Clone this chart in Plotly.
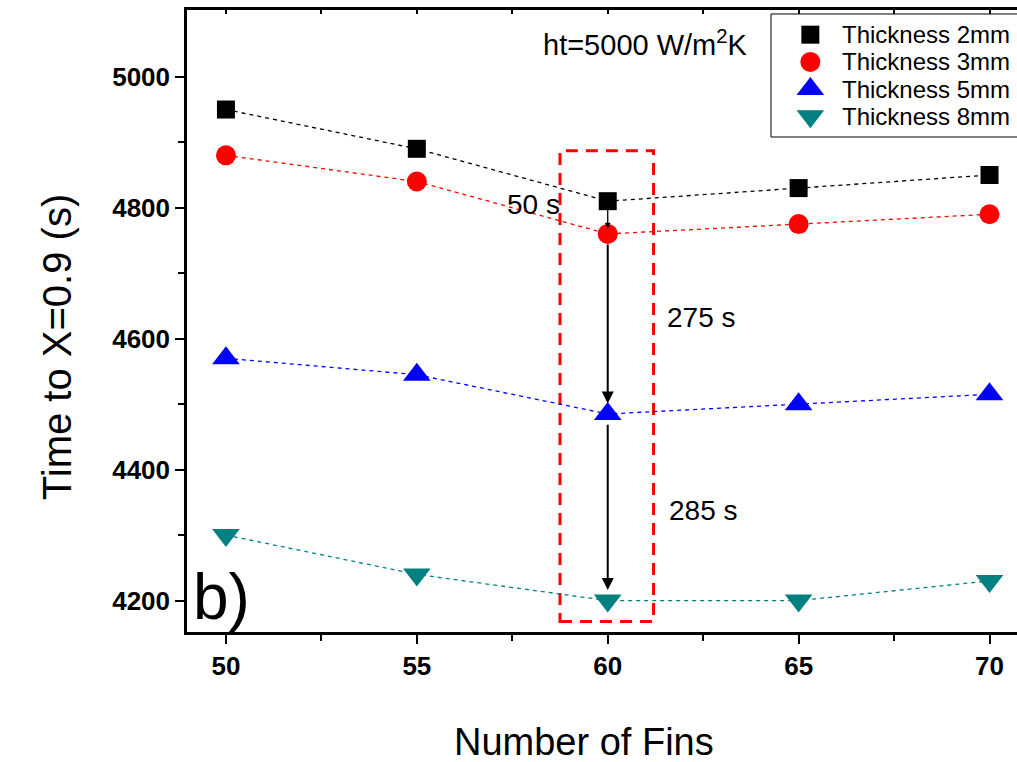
import plotly.graph_objects as go

# Number of fins on the x axis
fins = [50, 55, 60, 65, 70]

# Time to reach liquid fraction X=0.9 (s) for each fin thickness
t_2mm = [4950, 4890, 4810, 4830, 4850]
t_3mm = [4880, 4840, 4760, 4775, 4790]
t_5mm = [4570, 4545, 4485, 4500, 4515]
t_8mm = [4300, 4240, 4200, 4200, 4230]

series_names = ["Thickness 2mm", "Thickness 3mm", "Thickness 5mm", "Thickness 8mm"]
series_vals = [t_2mm, t_3mm, t_5mm, t_8mm]
colors = ["#000000", "#ff0000", "#0000ff", "#008080"]
symbols = ["square", "circle", "triangle-up", "triangle-down"]
sizes = [18, 20, 24, 24]

# Differences highlighted at 60 fins
gap_labels = ["50 s", "275 s", "285 s"]

x_ticks = [50, 55, 60, 65, 70]
y_ticks = [4200, 4400, 4600, 4800, 5000]

FONT = "Liberation Sans, Arial, sans-serif"

fig = go.Figure()
for name, vals, c, s, sz in zip(series_names, series_vals, colors, symbols, sizes):
    fig.add_trace(go.Scatter(
        x=fins, y=vals, name=name, mode="lines+markers", showlegend=False,
        line=dict(color=c, width=1.3, dash="4px,4px"),
        marker=dict(symbol=s, size=sz, color=c, line=dict(width=0)),
    ))

# Highlight box around the 60-fin column
fig.add_shape(type="rect", x0=58.75, x1=61.2, y0=4168, y1=4887,
              line=dict(color="#ff0000", width=3, dash="12px,8px"),
              fillcolor="rgba(0,0,0,0)", layer="below")

# Vertical arrows between consecutive series at 60 fins
idx = fins.index(60)
label_xy = [(58.05, 4805), (62.45, 4632), (62.5, 4337)]
for i in range(3):
    y_from = series_vals[i][idx]
    y_to = series_vals[i + 1][idx]
    fig.add_annotation(x=60, y=y_to + (8 if i == 0 else 16), ax=60, ay=y_from - (6 if i == 0 else 14),
                       xref="x", yref="y", axref="x", ayref="y",
                       showarrow=True, arrowhead=2, arrowsize=1.2 if i else 0.9,
                       arrowwidth=2 if i else 1.3, arrowcolor="#000000", text="")
    fig.add_annotation(x=label_xy[i][0], y=label_xy[i][1], text=gap_labels[i], showarrow=False,
                       font=dict(family=FONT, size=28, color="#000000"))

fig.add_annotation(x=61.0, y=5052, text="ht=5000 W/m<sup>2</sup>K", showarrow=False,
                   font=dict(family=FONT, size=29, color="#000000"))
fig.add_annotation(x=49.88, y=4205, text="b)", showarrow=False,
                   font=dict(family=FONT, size=64, color="#000000"))

# Axis titles
fig.add_annotation(xref="paper", yref="paper", x=0.478, y=-0.214, text="Number of Fins",
                   showarrow=False, font=dict(family=FONT, size=38, color="#000000"))
fig.add_annotation(xref="paper", yref="paper", x=-0.1855, y=0.458, text="Time to X=0.9 (s)",
                   textangle=-90, showarrow=False,
                   font=dict(family=FONT, size=40, color="#000000"))

# Legend panel: a small inset axis with one row per series
LEG_X0, LEG_X1, LEG_Y0, LEG_Y1 = 0.7036, 1.02, 0.7958, 0.9936
rows = list(range(len(series_names)))
fig.add_shape(type="rect", xref="paper", yref="paper",
              x0=LEG_X0, x1=LEG_X1, y0=LEG_Y0, y1=LEG_Y1,
              line=dict(color="#000000", width=1), fillcolor="#ffffff", layer="below")
for r, name, c, s, sz in zip(rows, series_names, colors, symbols, sizes):
    fig.add_trace(go.Scatter(
        x=[0], y=[r], mode="markers", xaxis="x3", yaxis="y3", showlegend=False,
        hoverinfo="skip", marker=dict(symbol=s, size=sz, color=c, line=dict(width=0)),
    ))
    fig.add_annotation(xref="x3", yref="y3", x=0.12, y=r, text=name, showarrow=False,
                       xanchor="left", font=dict(family=FONT, size=24, color="#000000"))

axis_common = dict(
    showline=True, linecolor="#000000", linewidth=2.5, mirror=False,
    ticks="outside", ticklen=9, tickwidth=2, tickcolor="#000000",
    showgrid=False, zeroline=False,
    tickfont=dict(family=FONT, size=26, color="#000000", weight="bold"),
)
hidden = dict(visible=False, showgrid=False, zeroline=False, fixedrange=True)

fig.update_layout(
    xaxis=dict(
        range=[48.98, 70.72], tickvals=x_ticks, ticktext=[str(f) for f in x_ticks],
        minor=dict(tickvals=[52.5, 57.5, 62.5, 67.5], ticks="outside", ticklen=6,
                   tickwidth=2, tickcolor="#000000"),
        **axis_common,
    ),
    xaxis2=dict(
        overlaying="x", matches="x", side="top", showline=True, linecolor="#000000",
        linewidth=2.5, ticks="inside", ticklen=4, tickwidth=1.5, tickcolor="#000000",
        tickvals=[50, 52.5, 55, 57.5, 60, 62.5, 65, 67.5, 70], showticklabels=False,
        showgrid=False, zeroline=False,
    ),
    yaxis=dict(
        range=[4152, 5102], tickvals=y_ticks,
        minor=dict(tickvals=[4300, 4500, 4700, 4900], ticks="outside", ticklen=6,
                   tickwidth=2, tickcolor="#000000"),
        **axis_common,
    ),
    xaxis3=dict(domain=[LEG_X0, 1.0], range=[-0.16, 0.84], anchor="y3", **hidden),
    yaxis3=dict(domain=[LEG_Y0, LEG_Y1], range=[3.76, -0.76], anchor="x3", **hidden),
)
fig.add_trace(go.Scatter(x=[None], y=[None], xaxis="x2", showlegend=False, hoverinfo="skip"))

fig.update_layout(
    width=1017, height=762,
    margin=dict(l=187, r=0, t=10, b=130),
    paper_bgcolor="#ffffff", plot_bgcolor="rgba(0,0,0,0)",
    showlegend=False,
)

fig.write_html("out.html")
